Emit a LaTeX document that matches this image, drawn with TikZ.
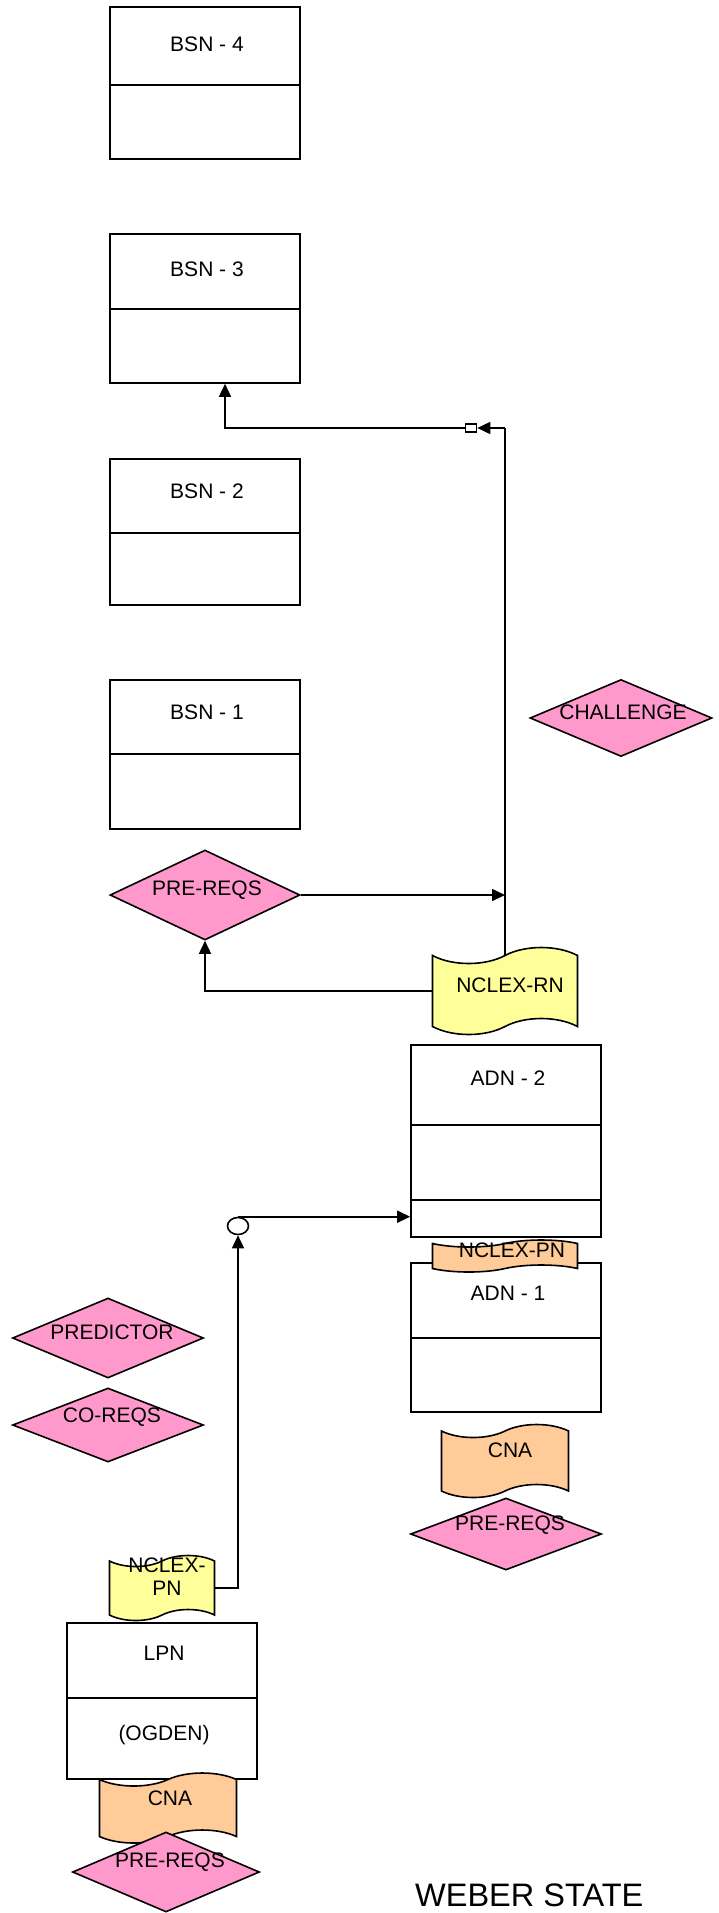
\documentclass[tikz,border=0pt]{standalone}
\usepackage{fontspec}
\setmainfont{Liberation Sans}
\usetikzlibrary{shapes.geometric,shapes.symbols,arrows.meta}
\definecolor{pinkd}{HTML}{FF99CC}
\definecolor{yelt}{HTML}{FFFF99}
\definecolor{orat}{HTML}{FFCC99}
\begin{document}
\begin{tikzpicture}[x=1pt,y=-1pt,
 lw/.style={line width=1.6pt},
 box/.style={draw,lw,minimum width=190pt,inner sep=0pt},
 dia/.style={shape=diamond,draw,lw,fill=pinkd,inner sep=0pt},
 tp/.style={shape=tape,draw,lw,inner sep=0pt},
 txt/.style={font=\fontsize{21}{23}\selectfont,inner sep=0pt,align=center},
 arr/.style={lw,-{Triangle[length=13pt,width=12pt]}},
]
\useasboundingbox (0,0) rectangle (719,1913);
\fill[white] (0,0) rectangle (719,1913);

% BSN boxes
\node[box,minimum height=152pt] (bsn4) at (205,83) {};
\draw[lw] (110,85) -- (300,85);
\node[txt] (bsn4t) at (207,44) {BSN - 4};
\node[box,minimum height=149pt] (bsn3) at (205,308.5) {};
\draw[lw] (110,309) -- (300,309);
\node[txt] (bsn3t) at (207,269) {BSN - 3};
\node[box,minimum height=146pt] (bsn2) at (205,532) {};
\draw[lw] (110,533) -- (300,533);
\node[txt] (bsn2t) at (207,491) {BSN - 2};
\node[box,minimum height=149pt] (bsn1) at (205,754.5) {};
\draw[lw] (110,754) -- (300,754);
\node[txt] (bsn1t) at (207,712) {BSN - 1};

% diamonds
\node[dia,minimum width=190pt,minimum height=90pt] (pr1) at (205,895) {};
\node[txt] (pr1t) at (207,890) {PRE-REQS};
\node[dia,minimum width=182pt,minimum height=77pt] (chal) at (621,718) {};
\node[txt] (chalt) at (623,712) {CHALLENGE};

% NCLEX-RN
\node[tp,fill=yelt,minimum width=145pt,minimum height=87pt,tape bend height=16pt] (nrn) at (505,991) {};
\node[txt] (nrnt) at (510,985) {NCLEX-RN};

% ADN-2
\node[box,minimum height=192pt] (adn2) at (506,1141) {};
\draw[lw] (411,1125) -- (601,1125);
\draw[lw] (411,1200) -- (601,1200);
\node[txt] (adn2t) at (508,1078) {ADN - 2};

% ADN-1
\node[box,minimum height=149pt] (adn1) at (506,1337.5) {};
\draw[lw] (411,1338) -- (601,1338);
\node[txt] (adn1t) at (508,1293) {ADN - 1};

% NCLEX-PN (orange)
\node[tp,fill=orat,minimum width=145pt,minimum height=32pt,tape bend height=7pt] (npn1) at (505,1256) {};
\node[txt] (npn1t) at (512,1250) {NCLEX-PN};

% CNA upper
\node[tp,fill=orat,minimum width=127pt,minimum height=73pt,tape bend height=13pt] (cna1) at (505,1461) {};
\node[txt] (cna1t) at (510,1450) {CNA};
\node[dia,minimum width=191pt,minimum height=72pt] (pr3) at (506,1534) {};
\node[txt] (pr3t) at (510,1525) {PRE-REQS};

% left diamonds
\node[dia,minimum width=191pt,minimum height=80pt] (pred) at (108,1338) {};
\node[txt] (predt) at (112,1332) {PREDICTOR};
\node[dia,minimum width=191pt,minimum height=74pt] (coreq) at (108,1425) {};
\node[txt] (coreqt) at (112,1417) {CO-REQS};

% LPN
\node[box,minimum height=156pt] (lpn) at (162,1701) {};
\draw[lw] (67,1698) -- (257,1698);
\node[txt] (lpnt) at (164,1653) {LPN};
\node[txt] (ogdt) at (164,1735) {(OGDEN)};

% NCLEX-PN yellow
\node[tp,fill=yelt,minimum width=105pt,minimum height=65pt,tape bend height=11pt] (npn2) at (162,1588) {};
\node[txt] (npn2t) at (167,1577) {NCLEX-\\PN};

% CNA lower
\node[tp,fill=orat,minimum width=137pt,minimum height=70pt,tape bend height=13pt] (cna2) at (168,1808) {};
\node[txt] (cna2t) at (170,1798) {CNA};
\node[dia,minimum width=187pt,minimum height=80pt] (pr2) at (166,1872) {};
\node[txt] (pr2t) at (170,1862) {PRE-REQS};

% markers
\node[draw,lw,fill=white,minimum width=11pt,minimum height=8pt,inner sep=0pt] (lk) at (471,428) {};
\node[draw,lw,fill=white,shape=ellipse,minimum width=21pt,minimum height=17pt,inner sep=0pt] (cir) at (238,1226) {};

% connectors
\coordinate (c1) at (505,428);
\draw[lw] (nrn.north) -- (c1);
\draw[arr] (c1) -- (lk.east);
\draw[arr] (lk.west) -| ([xshift=20pt]bsn3.south);
\draw[arr] (pr1.east) -- (pr1.east -| c1);
\draw[arr] (nrn.west) -| (pr1.south);
\draw[arr] (npn2.east) -| (cir.south);
\draw[arr] (cir.north) -- (cir.north -| adn2.west);

% title
\node[font=\fontsize{32.5}{36}\selectfont,anchor=base west,inner sep=0pt] (ws) at (415,1906) {WEBER STATE};
\end{tikzpicture}
\end{document}
